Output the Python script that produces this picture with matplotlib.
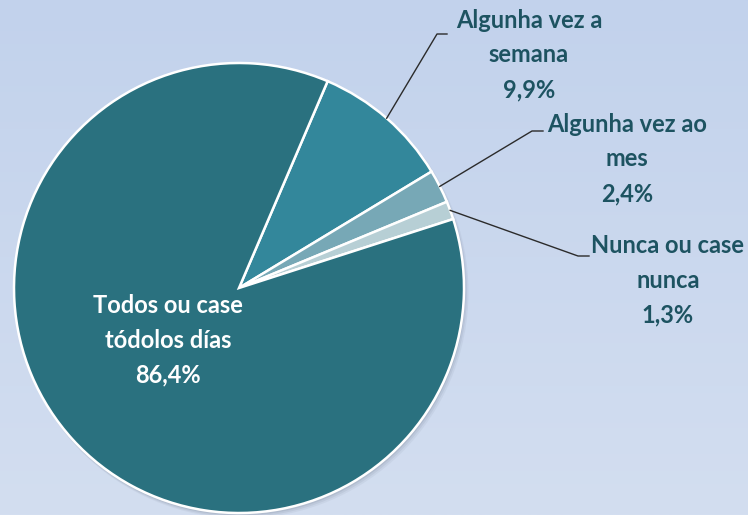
import matplotlib
matplotlib.use("Agg")
import matplotlib.pyplot as plt
import numpy as np

labels = ["Algunha vez a\nsemana", "Algunha vez ao\nmes", "Nunca ou case\nnunca", "Todos ou case\ntódolos días"]
values = [9.9, 2.4, 1.3, 86.4]
pct_text = ["9,9%", "2,4%", "1,3%", "86,4%"]
colors = ["#33879b", "#77a8b6", "#b7cfd5", "#2a717f"]

W, H = 748, 515
fig = plt.figure(figsize=(W / 100, H / 100), dpi=100)
ax = fig.add_axes([0, 0, 1, 1])
ax.set_xlim(0, W)
ax.set_ylim(0, H)
ax.set_aspect("equal")
ax.axis("off")

# background gradient
grad = np.linspace(0, 1, 256).reshape(-1, 1)
top = np.array([0xc2, 0xd2, 0xec]) / 255
bot = np.array([0xd3, 0xde, 0xf0]) / 255
img = top + (bot - top) * grad[:, :, None]
ax.imshow(img, extent=[0, W, 0, H], origin="upper", aspect="auto", zorder=0)

cx, cy, r = 239, H - 288, 225
# soft shadow
for i, a in enumerate([0.05, 0.07, 0.09]):
    sh = plt.Circle((cx + 3 - i, cy - 4 + i), r + 1.5 - i * 0.5, color="#303a50", alpha=a, lw=0, zorder=1)
    ax.add_patch(sh)

wedges, _ = ax.pie(values, colors=colors, startangle=66.8, counterclock=False,
                   center=(cx, cy), radius=r, frame=True,
                   wedgeprops=dict(edgecolor="white", linewidth=1.8, zorder=2))
ax.set_xlim(0, W)
ax.set_ylim(0, H)
ax.axis("off")

font = dict(family=["Lato", "DejaVu Sans"], fontweight="bold", fontsize=17)
tcol = "#1d5361"

# outer labels with leader lines
label_pos = [(529, 55), (627, 159), (668, 280)]
elbows = [((437, 34), (447, 34)), ((532, 131), (543, 131)), ((578, 256), (589, 256))]
for i in range(3):
    w = wedges[i]
    mid = np.deg2rad((w.theta1 + w.theta2) / 2)
    sx, sy = cx + r * np.cos(mid), cy + r * np.sin(mid)
    (ex, ey), (fx, fy) = elbows[i]
    ax.plot([sx, ex, fx], [sy, H - ey, H - fy], color="#2b2b2b", lw=1.0, zorder=3)
    lx, ly = label_pos[i]
    ax.text(lx, H - ly, labels[i] + "\n" + pct_text[i], ha="center", va="center",
            color=tcol, linespacing=1.62, zorder=4, **font)

ax.text(168, H - 340, labels[3] + "\n" + pct_text[3], ha="center", va="center",
        color="white", linespacing=1.62, zorder=4, **font)

fig.savefig("out.png", dpi=100)
